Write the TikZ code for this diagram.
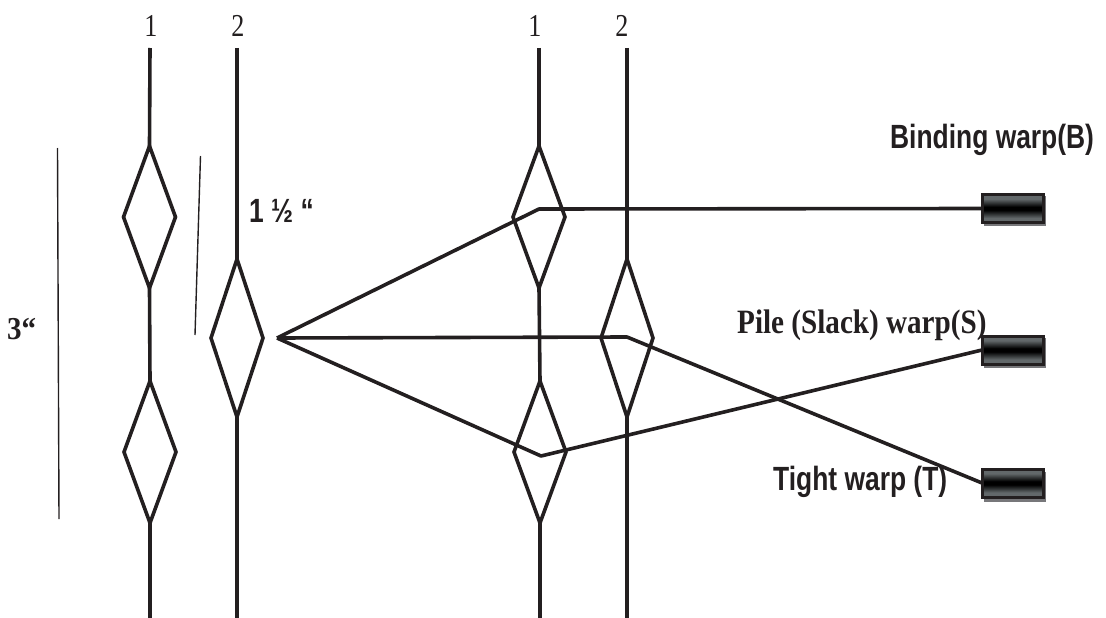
\documentclass[tikz,border=0pt]{standalone}
\usepackage{fontspec}
\setmainfont{Liberation Serif}
\newfontfamily\hvf{Liberation Sans}
\usetikzlibrary{shapes.geometric}
\definecolor{ink}{HTML}{231F20}
\definecolor{beamgrey}{HTML}{62686A}
\definecolor{shadowgrey}{HTML}{77777A}
\pgfdeclareverticalshading{beamshade}{100bp}{color(0bp)=(beamgrey); color(33bp)=(beamgrey); color(47bp)=(black); color(53bp)=(black); color(67bp)=(beamgrey); color(100bp)=(beamgrey)}
\tikzset{
  warp/.style={draw=ink,line width=3.6pt,line join=round},
  thin rule/.style={draw=ink,line width=1.4pt},
  heddle/.style={shape=diamond,draw=ink,line width=3.6pt,minimum width=52pt,minimum height=142pt,inner sep=0pt,outer sep=0pt,shape aspect=0.37},
  tallheddle/.style={heddle,minimum height=158pt},
  num/.style={font=\fontsize{29}{31}\selectfont,text=ink,inner sep=0pt,xscale=0.9,yscale=1.1},
  sanslab/.style={font=\hvf\bfseries\fontsize{30}{32}\selectfont,text=ink,inner sep=0pt,xscale=0.88,yscale=1.12},
  seriflab/.style={font=\bfseries\fontsize{31}{33}\selectfont,text=ink,inner sep=0pt,xscale=0.94,yscale=1.1},
  beam/.style={draw=ink,line width=3pt,minimum width=61pt,minimum height=28pt,inner sep=0pt,outer sep=0pt,shading=beamshade},
  beamshadow/.style={fill=shadowgrey,draw=none,minimum width=62pt,minimum height=30pt,inner sep=0pt},
}
\begin{document}
\begin{tikzpicture}[x=1pt,y=-1pt]
\useasboundingbox (0,0) rectangle (1106,618);
\coordinate (a1t) at (150,48); \coordinate (a1b) at (150,618);
\coordinate (a2t) at (237,48); \coordinate (a2b) at (237,618);
\coordinate (b1t) at (539,48); \coordinate (b1b) at (540,618);
\coordinate (b2t) at (627,48); \coordinate (b2b) at (627,618);
\coordinate (s3a) at (57.5,148); \coordinate (s3b) at (59,519);
\coordinate (s1a) at (200.5,156); \coordinate (s1b) at (195,335);
\coordinate (fell) at (277,338);
\coordinate (benda) at (539,209);
\coordinate (bendb) at (627,337);
\coordinate (bendc) at (541,456);
\node[heddle] (A1) at (149.5,217) {};
\node[heddle] (A2) at (150,452) {};
\node[tallheddle] (A3) at (237,338) {};
\node[heddle] (B1) at (539,217) {};
\node[heddle] (B2) at (540,452) {};
\node[tallheddle] (B3) at (627,338) {};
\draw[warp] (a1t) -- (A1.north);
\draw[warp] (A1.south) -- (A2.north);
\draw[warp] (A2.south) -- (a1b);
\draw[warp] (a2t) -- (A3.north);
\draw[warp] (A3.south) -- (a2b);
\draw[warp] (b1t) -- (B1.north);
\draw[warp] (B1.south) -- (B2.north);
\draw[warp] (B2.south) -- (b1b);
\draw[warp] (b2t) -- (B3.north);
\draw[warp] (B3.south) -- (b2b);
\draw[thin rule] (s3a) -- (s3b);
\draw[thin rule] (s1a) -- (s1b);
\node[beamshadow] (SB) at (1015,211) {};
\node[beamshadow] (SS) at (1015,353) {};
\node[beamshadow] (ST) at (1015,487) {};
\node[beam] (BB) at (1012.5,208.5) {};
\node[beam] (BS) at (1012.5,350) {};
\node[beam] (BT) at (1012.5,483) {};
\draw[warp] (fell) -- (benda) -- (BB.west);
\draw[warp] (fell) -- (bendb) -- (BT.west);
\draw[warp] (fell) -- (bendc) -- (BS.west);
\node[num] (n1) at (151,26) {1};
\node[num] (n2) at (238,26) {2};
\node[num] (n3) at (535,26) {1};
\node[num] (n4) at (622,26) {2};
\node[font=\bfseries\fontsize{29}{31}\selectfont,text=ink,inner sep=0pt,anchor=west,yscale=1.1] (l3) at (7,329) {3“};
\node[sanslab,anchor=west] (l1) at (249,211) {1 ½ “};
\node[sanslab,anchor=west] (lB) at (890,140) {Binding warp(B)};
\node[seriflab,anchor=west] (lS) at (737,325) {Pile (Slack) warp(S)};
\node[sanslab,anchor=west] (lT) at (773,482) {Tight warp (T)};
\end{tikzpicture}
\end{document}
